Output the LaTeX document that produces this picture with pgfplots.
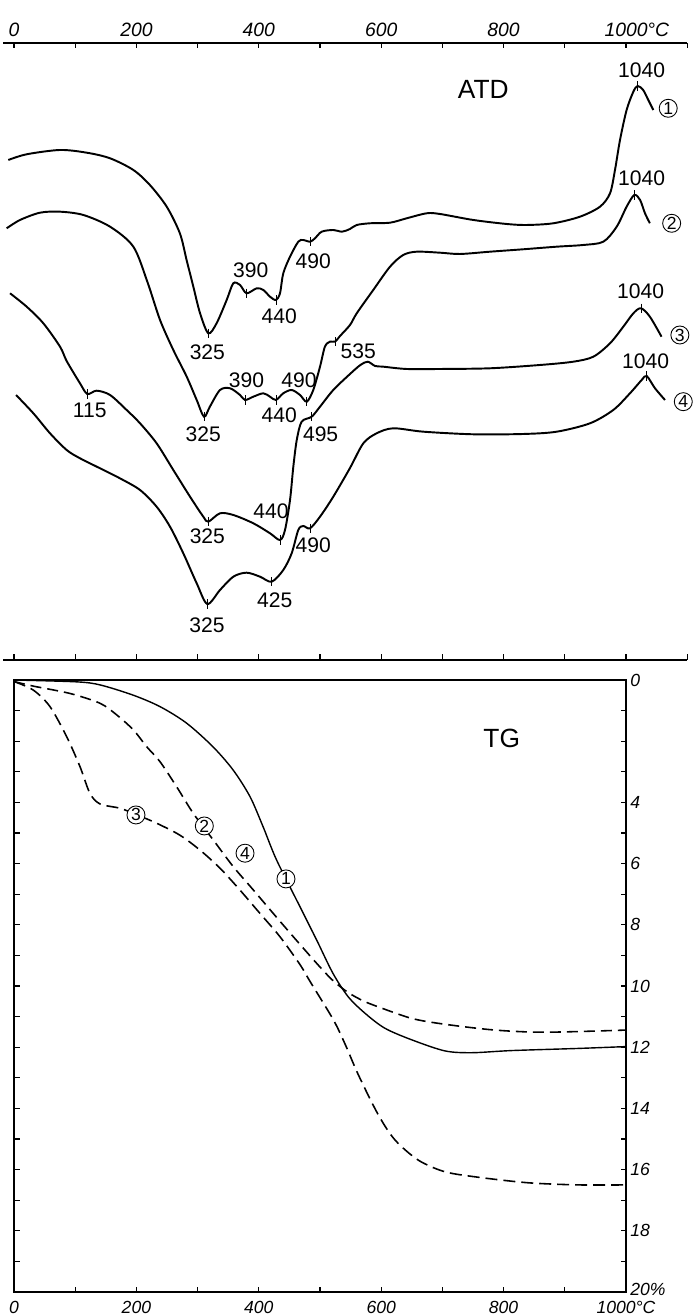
\documentclass[border=0pt]{standalone}
\usepackage{fontspec}
\setmainfont{Liberation Sans}
\usepackage{pgfplots}
\pgfplotsset{compat=1.18}
\begin{document}
\begin{tikzpicture}
\path[use as bounding box] (-2.8mm,-4.8mm) rectangle (136.2mm,258.4mm);
% ---------------- TG ----------------
\begin{axis}[
  at={(0mm,0mm)}, anchor=south west, scale only axis,
  width=122.4mm, height=122.4mm,
  xmin=0, xmax=1000, ymin=0, ymax=20, y dir=reverse,
  axis line style={line width=1pt},
  tick align=inside,
  xtick pos=left, ytick pos=both, yticklabel pos=right,
  xtick={0,200,...,1000}, minor xtick={100,300,...,900},
  xticklabels={0,200,400,600,800,1000°C},
  ytick={0,4,6,...,20}, minor ytick={1,2,3,5,7,9,11,13,15,17,19},
  yticklabels={0,4,6,8,10,12,14,16,18,\raisebox{1.2mm}{20\%}},
  major tick length=1.1mm, minor tick length=1.1mm,
  tick style={black, line width=0.6pt},
  tick label style={font=\fontsize{10}{12}\selectfont\itshape, inner sep=0pt},
  xticklabel shift=1.8mm, yticklabel shift=0.8mm,
  clip=false,
]
% curve 1 (solid)
\addplot[black, line width=0.8pt, smooth, tension=0.5] coordinates {
(0,0) (102,0.06) (140.5,0.16) (194,0.49) (238.6,0.87) (282,1.41) (325,2.18)
(358,2.94) (385.6,3.81) (406.9,4.79) (429,5.88) (467.3,7.41) (494.6,8.50)
(521,9.58) (546,10.35) (573.5,10.89) (606,11.38) (650,11.76) (704,12.12)
(748,12.18) (813,12.11) (922,12.04) (1000,11.98)};
% curves 2 and 4 (dashed)
\addplot[black, line width=0.9pt, smooth, tension=0.5, dash pattern=on 2.2mm off 1.2mm] coordinates {
(0,0.05) (31.6,0.2) (91.5,0.44) (140.5,0.76) (167.8,1.14) (195,1.63) (216.8,2.18)
(238.6,2.67) (265.8,3.49) (293,4.36) (325.7,5.23) (358.3,6.10) (391,6.86)
(423.7,7.63) (456.4,8.39) (494.6,9.26) (520,9.8) (545,10.2) (570,10.48)
(595,10.68) (650,11.06) (704,11.25) (786,11.44) (868,11.51) (1000,11.44)};
% curve 3 (dashed)
\addplot[black, line width=0.9pt, smooth, tension=0.5, dash pattern=on 2.4mm off 1.2mm] coordinates {
(0,0.05) (31.6,0.33) (58.8,0.87) (86,1.85) (107.8,2.83) (124,3.70) (140.5,4.05)
(173,4.19) (197.7,4.38) (233,4.68) (271,5.07) (304,5.56) (336.6,6.15) (369,6.86)
(402,7.63) (434.6,8.39) (467.3,9.3) (483.7,9.85) (521.7,11.1) (541,11.9)
(562.6,12.9) (595,14.2) (622.5,15.03) (660.6,15.69) (704,16.07) (758.7,16.25)
(840,16.43) (922,16.5) (1000,16.5)};
\node[font=\fontsize{15}{15}\selectfont] at (axis cs:797,1.91) {TG};
\tikzset{circ/.style={circle, draw, fill=white, line width=0.5pt, inner sep=0pt,
  minimum size=3.6mm, font=\fontsize{10}{10}\selectfont}}
\node[circ] at (axis cs:199.3,4.41) {3};
\node[circ] at (axis cs:311,4.77) {2};
\node[circ] at (axis cs:377.5,5.66) {4};
\node[circ] at (axis cs:444.4,6.5) {1};
\end{axis}
% ---------------- ATD ----------------
\begin{axis}[
  at={(-2.2mm,126.4mm)}, anchor=south west, scale only axis,
  width=136.84mm, height=123.4mm,
  xmin=-18, xmax=1100, ymin=-10, ymax=607,
  axis x line=box, axis y line=none,
  axis line style={line width=1.1pt},
  tick align=inside,
  xtick={0,100,...,1100}, xtick pos=both, xticklabel pos=right,
  xticklabels={0,,200,,400,,600,,800,,1000\rlap{°C},},
  ytick=\empty,
  major tick length=1.1mm,
  tick style={black, line width=0.6pt},
  tick label style={font=\fontsize{11}{12}\selectfont\itshape, inner sep=0pt},
  xticklabel shift=1.2mm,
  clip=false,
]
% curve 1
\addplot[black, line width=1.1pt, smooth, tension=0.5] coordinates {
(-9.3,490) (20.7,495.7) (75.2,500) (118.8,497.3) (156.9,491.7) (195,480) (222,465)
(249.5,443.3) (271,416.7) (282,390) (293,363.3) (304,336.7) (317.5,316.7) (331,326.7)
(347.5,350) (358.3,366.7) (369.3,365) (380,356.7) (396.6,361.7) (407.4,360)
(418.3,353.3) (428,350) (434.6,356.7) (440,376.7) (451,393.3) (464.5,408.3)
(472.7,410) (483.7,408.3) (491.8,411.7) (502.8,418.3) (521.7,420) (536,418.3)
(549,421) (560,425) (581.7,426.7) (614.4,427.3) (641.7,431.7) (674.3,436.7)
(696,436) (750.5,430) (805,426) (837.7,425) (881.2,426.7) (924.8,433.3)
(957.5,443.3) (973.9,456.7) (982,480) (990.2,510) (1001,540) (1012,558.3)
(1019,564) (1028,560) (1036.4,550) (1044.6,540)};
% curve 2
\addplot[black, line width=1.1pt, smooth, tension=0.5] coordinates {
(-12,421.7) (9.8,430) (42.5,437.3) (75.2,438.3) (113.3,435) (156.9,423.3) (195,403.3)
(218,368) (238.6,330) (260.3,300) (282.2,273.3) (298.5,250) (310.5,233.3) (320,243.3)
(336.6,260) (353,261.7) (369.3,255) (377.5,250) (391,253.3) (407.4,256.7)
(418.3,253.3) (428,250) (440,256.7) (453.7,260) (467.3,255) (478.3,248.3)
(489,260) (500,283.3) (508,303.3) (516.3,308.3) (524.5,308.3) (532.7,314)
(549,325) (560,336.7) (587,360) (614.4,383.3) (636,395) (658,398.3) (696,397.3)
(728.8,396) (777.8,398.3) (832,400.7) (886.8,403.3) (930,405) (963,408.3)
(984.8,423.3) (1001,443.3) (1013.6,455) (1023,450) (1031,436.7) (1039,426.7)};
% curve 3
\addplot[black, line width=1.1pt, smooth, tension=0.5] coordinates {
(-6.5,356.7) (20.7,343.3) (47.9,326.7) (75.2,303.3) (86,289) (107.8,266.7)
(119.8,256) (135,259.3) (156.9,255) (184,240) (205.9,226.7) (233,206.7)
(260.3,180) (287.6,153.3) (309.3,133.3) (317.5,128.3) (336.6,136.7) (358.3,135)
(391,126.7) (418.3,116.7) (434.6,110) (442.8,120) (451,150) (456.4,183.3)
(462,210) (470,228.3) (486.4,233.3) (500,243.3) (521.7,260) (549,276)
(566,285) (578,288.3) (590,284) (603.4,283.3) (641.7,281) (696,281) (777.8,281.7)
(859.5,285) (914,288.3) (946.6,293.3) (973.9,306.7) (995.6,323.3) (1012,336.7)
(1024.5,341.7) (1039,333.3) (1058,313.3)};
% curve 4
\addplot[black, line width=1.1pt, smooth, tension=0.5] coordinates {
(3.3,255) (31.6,236.7) (58.8,216.7) (86,200) (107.8,191.7) (140.5,181.7)
(173,171.7) (205.9,160) (233,143.3) (254.9,123.3) (276.6,96.7) (298.5,66.7)
(315.9,46) (336.6,60) (358.3,73.3) (380,77.3) (402,73.3) (421,68.3) (440,80)
(453.7,96.7) (464.5,120) (472.7,124) (483.7,121.7) (500,133.3) (521.7,153.3)
(549,182) (570.8,206.7) (592.6,216.7) (619.8,221.7) (668.8,218.3) (750.5,215.7)
(832.2,216) (886.8,218.3) (941.2,226.7) (979.2,240) (1006.5,256.7) (1025.6,270)
(1033.8,274) (1047.4,261.7) (1063.7,250)};
% peak / trough markers
\addplot[only marks, mark=|, mark size=2.6pt, mark options={black, line width=0.5pt}] coordinates {
(317.5,316.7) (380,356.7) (428,350) (483.7,408.3) (1019,564)
(310.5,233.3) (377.5,250) (428,250) (478.3,248.3) (524.5,308.3) (1013.6,455)
(119.8,256) (317.5,128.3) (434.6,110) (486.4,233.3) (1024.5,341.7)
(315.9,46) (421,68.3) (483.7,121.7) (1033.8,274)};
\tikzset{lab/.style={font=\fontsize{12}{12}\selectfont, inner sep=0pt}}
% curve 1 labels
\node[lab] at (axis cs:315.9,297.7) {325};
\node[lab] at (axis cs:386.7,380) {390};
\node[lab] at (axis cs:433.5,333.3) {440};
\node[lab] at (axis cs:489,388.3) {490};
\node[lab] at (axis cs:1025.6,580) {1040};
% curve 2 labels
\node[lab] at (axis cs:309.3,216) {325};
\node[lab] at (axis cs:380,270) {390};
\node[lab] at (axis cs:433.5,235) {440};
\node[lab] at (axis cs:465.7,270) {490};
\node[lab] at (axis cs:562.6,298.3) {535};
\node[lab] at (axis cs:1025.6,471.7) {1040};
% curve 3 labels
\node[lab] at (axis cs:123.7,240) {115};
\node[lab] at (axis cs:315.9,113.3) {325};
\node[lab] at (axis cs:420,138.3) {440};
\node[lab] at (axis cs:501,216) {495};
\node[lab] at (axis cs:1024,358.3) {1040};
% curve 4 labels
\node[lab] at (axis cs:315.4,25) {325};
\node[lab] at (axis cs:426,50) {425};
\node[lab] at (axis cs:489,105) {490};
\node[lab] at (axis cs:1032,288.3) {1040};
\node[font=\fontsize{15}{15}\selectfont] at (axis cs:766.8,560.7) {ATD};
\tikzset{circ/.style={circle, draw, line width=0.5pt, inner sep=0pt,
  minimum size=3.6mm, font=\fontsize{10}{10}\selectfont}}
\node[circ] at (axis cs:1069,541.7) {1};
\node[circ] at (axis cs:1074.6,426.7) {2};
\node[circ] at (axis cs:1088,315) {3};
\node[circ] at (axis cs:1093.6,248.3) {4};
\end{axis}
\end{tikzpicture}
\end{document}
